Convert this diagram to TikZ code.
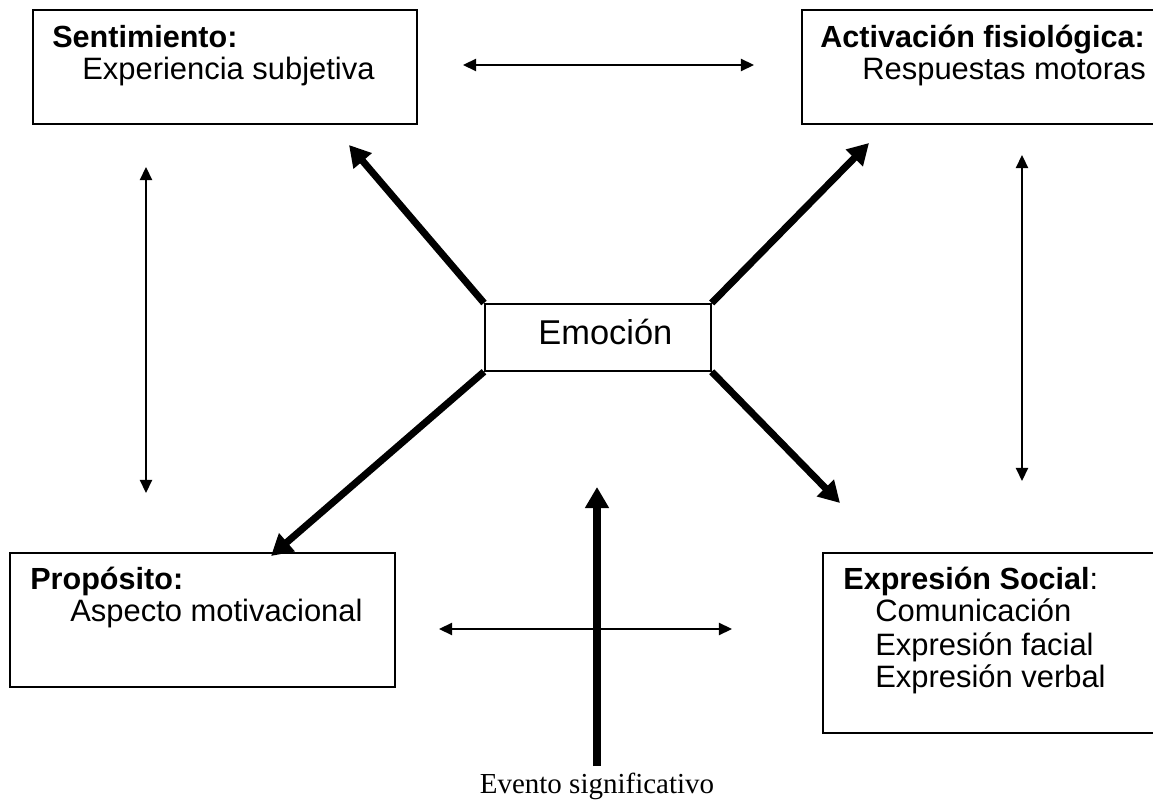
\documentclass[tikz,border=0pt]{standalone}
\usepackage{fontspec}
\setmainfont{Liberation Sans}
\newfontfamily\eventfont{Liberation Serif}
\usetikzlibrary{arrows.meta}
\usetikzlibrary{positioning}

\tikzset{
  box/.style={draw, line width=1pt, inner sep=0pt, anchor=north west},
  txt/.style={anchor=base west, inner sep=0pt, font=\fontsize{17.6}{21}\selectfont},
  head/.style={anchor=base west, inner sep=0pt, font=\fontsize{17.4}{21}\selectfont\bfseries},
  bigarrow/.style={line width=4pt, -{Triangle[length=12pt, width=13pt]}},
  thinarrow/.style={line width=0.9pt, {Triangle[length=7.5pt, width=7pt]}-{Triangle[length=7.5pt, width=7pt]}}
}

\begin{document}
\begin{tikzpicture}[x=0.02cm, y=-0.02cm]
  \useasboundingbox (0,0) rectangle (1153,803);

  % cajas
  \node [box, minimum width=7.68cm, minimum height=2.28cm] (sent) at (32,9) {};
  \node [box, minimum width=8cm, minimum height=2.28cm] (acti) at (801,9) {};
  \node [box, minimum width=7.7cm, minimum height=2.68cm] (prop) at (9,552) {};
  \node [box, minimum width=8cm, minimum height=3.6cm] (expr) at (822,552) {};
  \node [box, minimum width=4.52cm, minimum height=1.34cm] (emo) at (484,303) {};

  % textos
  \node [head] (sentT) at (52,48) {Sentimiento:};
  \node [txt] (sentS) at (82,80) {Experiencia subjetiva};
  \node [head] (actiT) at (820,48) {Activación fisiológica:};
  \node [txt] (actiS) at (862,80) {Respuestas motoras};
  \node [head] (propT) at (30,590) {Propósito:};
  \node [txt] (propS) at (70,622) {Aspecto motivacional};
  \node [txt] (exprT) at (843,590) {\fontsize{17.4}{21}\selectfont\textbf{Expresión Social}:};
  \node [txt] (exprA) at (875,622) {Comunicación};
  \node [txt] (exprB) at (875,655) {Expresión facial};
  \node [txt] (exprC) at (875,687) {Expresión verbal};
  \node [anchor=base west, inner sep=0pt, font=\fontsize{19.6}{23}\selectfont] (emoT) at (538,345) {Emoción};
  \node [anchor=base, inner sep=0pt, font=\eventfont\fontsize{16.5}{20}\selectfont] (event) at (597,793) {Evento significativo};

  % puntas de flechas
  \coordinate (tipSent) at (349,145);
  \coordinate (tipActi) at (869,143);
  \coordinate (tipProp) at (271,556);
  \coordinate (tipExpr) at (840,503);
  \coordinate (tipEmo) at (597,487);
  \coordinate (evStart) at (597,766);

  \draw [bigarrow] (emo.north west) -- (tipSent);
  \draw [bigarrow] (emo.north east) -- (tipActi);
  \draw [bigarrow] (emo.south west) -- (tipProp);
  \draw [bigarrow] (emo.south east) -- (tipExpr);
  \draw [bigarrow] (evStart) -- (tipEmo);

  \coordinate (topL) at (463,65);
  \coordinate (topR) at (754,65);
  \coordinate (botL) at (439,629);
  \coordinate (botR) at (732,629);
  \coordinate (leftU) at (146,167);
  \coordinate (leftD) at (146,493);
  \coordinate (rightU) at (1022,155);
  \coordinate (rightD) at (1022,481);

  \draw [thinarrow] (topL) -- (topR);
  \draw [thinarrow] (botL) -- (botR);
  \draw [thinarrow] (leftU) -- (leftD);
  \draw [thinarrow] (rightU) -- (rightD);
\end{tikzpicture}
\end{document}
